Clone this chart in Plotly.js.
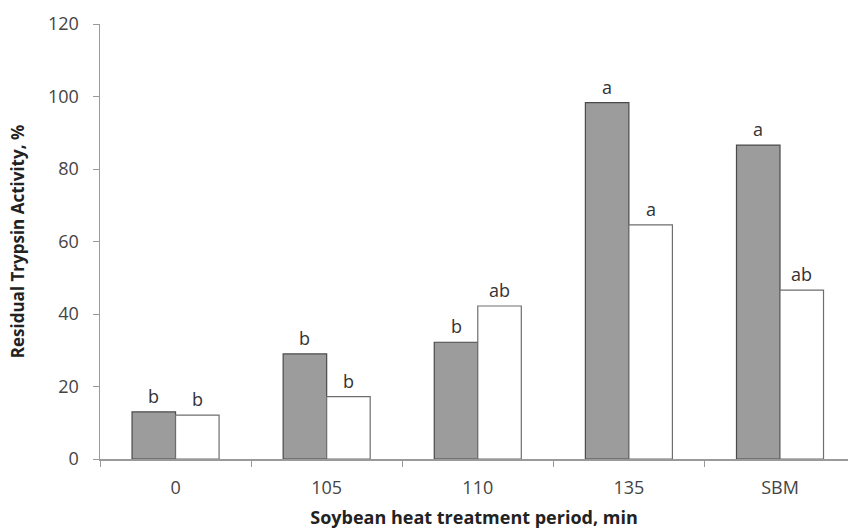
<!DOCTYPE html>
<html>
<head>
<meta charset="utf-8">
<script src="https://cdn.plot.ly/plotly-3.0.1.min.js"></script>
<style>html,body{margin:0;padding:0;background:#fff;}#chart{width:848px;height:529px;}</style>
</head>
<body>
<div id="chart"></div>
<script>
var categories = ["0", "105", "110", "135", "SBM"];
var greyValues = [13, 29, 32.2, 98.3, 86.6];
var whiteValues = [12.1, 17.2, 42.2, 64.6, 46.6];
var greyLetters = ["b", "b", "b", "a", "a"];
var whiteLetters = ["b", "b", "ab", "a", "ab"];
var yTicks = [0, 20, 40, 60, 80, 100, 120];

var font = "Open Sans, Noto Sans, sans-serif";

var traces = [
  {type: "bar", x: categories, y: greyValues, name: "grey",
   marker: {color: "#9c9c9c", line: {color: "#4a4a4a", width: 1.2}}},
  {type: "bar", x: categories, y: whiteValues, name: "white",
   marker: {color: "#ffffff", line: {color: "#6e6e6e", width: 1.2}}}
];

var annotations = [];
categories.forEach(function (c, i) {
  annotations.push({x: i, y: greyValues[i], xref: "x", yref: "y", text: greyLetters[i],
    showarrow: false, yanchor: "bottom", xshift: -21.75, yshift: 2,
    font: {family: font, size: 18, color: "#333"}});
  annotations.push({x: i, y: whiteValues[i], xref: "x", yref: "y", text: whiteLetters[i],
    showarrow: false, yanchor: "bottom", xshift: 21.75, yshift: 2,
    font: {family: font, size: 18, color: "#333"}});
});

var layout = {
  width: 848, height: 529,
  margin: {l: 100, r: 0, t: 24, b: 70},
  paper_bgcolor: "#fff", plot_bgcolor: "#fff",
  showlegend: false,
  barmode: "group", bargap: 0.424, bargroupgap: 0,
  font: {family: font, color: "#444"},
  xaxis: {
    type: "category", range: [-0.5, 4.45],
    showline: true, linecolor: "#9a9a9a", linewidth: 1.5,
    ticks: "outside", tickson: "boundaries", ticklen: 6, tickcolor: "#9a9a9a",
    ticklabelstandoff: 12,
    tickfont: {family: font, size: 18, color: "#444"},
    showgrid: false, zeroline: false,
    title: {text: "<b>Soybean heat treatment period, min</b>", font: {family: font, size: 18, color: "#222"}, standoff: 14}
  },
  yaxis: {
    range: [0, 120], tickvals: yTicks,
    showline: true, linecolor: "#9a9a9a", linewidth: 1.5,
    ticks: "outside", ticklen: 6, tickcolor: "#9a9a9a",
    ticklabelstandoff: 10,
    tickfont: {family: font, size: 18, color: "#444"},
    showgrid: false, zeroline: false,
    title: {text: "<b>Residual Trypsin Activity, %</b>", font: {family: font, size: 17, color: "#222"}, standoff: 19}
  },
  annotations: annotations
};

Plotly.newPlot("chart", traces, layout, {displayModeBar: false, staticPlot: true});
</script>
</body>
</html>
